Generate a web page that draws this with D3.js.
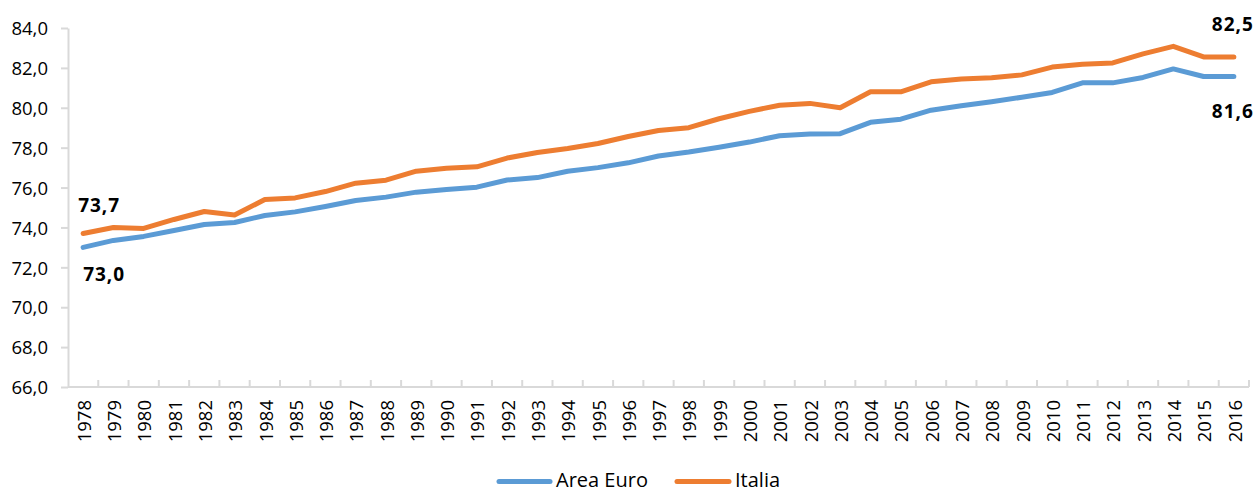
<!DOCTYPE html>
<html>
<head>
<meta charset="utf-8">
<script src="https://cdn.jsdelivr.net/npm/d3@7"></script>
<style>
  html, body { margin: 0; padding: 0; background: #fff; }
  svg { display: block; }
  text { font-family: "Open Sans", "Noto Sans", sans-serif; fill: #000; }
</style>
</head>
<body>
<svg id="chart" width="1257" height="492"></svg>
<script>
const years = [1978,1979,1980,1981,1982,1983,1984,1985,1986,1987,1988,1989,1990,1991,1992,1993,1994,1995,1996,1997,1998,1999,2000,2001,2002,2003,2004,2005,2006,2007,2008,2009,2010,2011,2012,2013,2014,2015,2016];
const areaEuro = [73.0,73.35,73.55,73.85,74.15,74.25,74.6,74.78,75.05,75.35,75.52,75.77,75.9,76.02,76.38,76.5,76.82,77.0,77.24,77.58,77.78,78.02,78.28,78.6,78.68,78.7,79.27,79.43,79.88,80.1,80.3,80.53,80.77,81.25,81.25,81.52,81.95,81.57,81.57];
const italia = [73.7,74.0,73.95,74.4,74.8,74.62,75.4,75.48,75.8,76.22,76.37,76.82,76.97,77.04,77.48,77.76,77.96,78.21,78.56,78.86,79.0,79.45,79.82,80.13,80.22,80.0,80.8,80.8,81.3,81.44,81.5,81.65,82.04,82.18,82.25,82.7,83.08,82.55,82.55];
const yTicks = [66,68,70,72,74,76,78,80,82,84];
const seriesNames = ["Area Euro", "Italia"];
const seriesColors = ["#5B9BD5", "#ED7D31"];
const endLabels = [
  {series: 1, index: 0, text: "73,7"},
  {series: 0, index: 0, text: "73,0"},
  {series: 1, index: 38, text: "82,5"},
  {series: 0, index: 38, text: "81,6"}
];

const svg = d3.select("#chart");
const mLeft = 68, mRight = 1249, mTop = 28, mBottom = 387;

const x = d3.scaleBand().domain(years).range([mLeft, mRight]).padding(0);
const y = d3.scaleLinear().domain([66, 84]).range([mBottom, mTop]);
const fmt = v => d3.format(".1f")(v).replace(".", ",");

const axisColor = "#D9D9D9";

// Y axis
const yAxis = svg.append("g").attr("transform", `translate(${mLeft},0)`)
  .call(d3.axisLeft(y).tickValues(yTicks).tickFormat(fmt).tickSize(7).tickSizeOuter(0));
yAxis.select(".domain").attr("stroke", axisColor).attr("stroke-width", 2);
yAxis.selectAll(".tick line").attr("stroke", axisColor).attr("stroke-width", 2);
yAxis.selectAll(".tick text")
  .attr("x", -20).attr("dy", "0.36em")
  .style("font-size", "18.5px").style("font-family", "'Open Sans', sans-serif").attr("fill", "#000");

// X axis line and ticks (ticks at band boundaries, pointing inward)
const xg = svg.append("g");
xg.append("line").attr("x1", mLeft).attr("x2", mRight).attr("y1", mBottom).attr("y2", mBottom)
  .attr("stroke", axisColor).attr("stroke-width", 2);
const bounds = years.map(d => x(d)).concat([x(years[years.length-1]) + x.bandwidth()]);
xg.selectAll("line.tk").data(bounds.slice(1)).enter().append("line").attr("class", "tk")
  .attr("x1", d => d).attr("x2", d => d).attr("y1", mBottom).attr("y2", mBottom - 7)
  .attr("stroke", axisColor).attr("stroke-width", 2);
xg.selectAll("text.yr").data(years).enter().append("text").attr("class", "yr")
  .attr("transform", d => `translate(${x(d) + x.bandwidth()/2 + 1},${mBottom + 13}) rotate(-90)`)
  .attr("text-anchor", "end").attr("dy", "0.36em")
  .style("font-size", "18.5px")
  .text(d => d);

// Lines
const series = [areaEuro, italia];
const line = d3.line().x((d, i) => x(years[i]) + x.bandwidth()/2).y(d => y(d));
series.forEach((s, k) => {
  svg.append("path").datum(s).attr("d", line)
    .attr("fill", "none").attr("stroke", seriesColors[k]).attr("stroke-width", 5)
    .attr("stroke-linejoin", "round").attr("stroke-linecap", "round");
});

// Data labels
const labelOffsets = {
  "1-0": [16, -21],
  "0-0": [21, 34],
  "1-38": [-1, -26],
  "0-38": [-1, 42]
};
endLabels.forEach(l => {
  const px = x(years[l.index]) + x.bandwidth()/2;
  const py = y(series[l.series][l.index]);
  const off = labelOffsets[l.series + "-" + l.index];
  svg.append("text").attr("x", px + off[0]).attr("y", py + off[1])
    .attr("text-anchor", "middle")
    .style("font-size", "19px").style("font-weight", "700").style("letter-spacing", "1px")
    .text(l.text);
});

// Legend
const legend = svg.append("g");
const legendItems = [
  {x1: 499, x2: 550, tx: 556},
  {x1: 677, x2: 729, tx: 735}
];
seriesNames.forEach((n, k) => {
  const it = legendItems[k];
  legend.append("line").attr("x1", it.x1).attr("x2", it.x2).attr("y1", 481.5).attr("y2", 481.5)
    .attr("stroke", seriesColors[k]).attr("stroke-width", 5).attr("stroke-linecap", "round");
  legend.append("text").attr("x", it.tx).attr("y", 486.5)
    .style("font-size", "20px").text(n);
});
</script>
</body>
</html>
